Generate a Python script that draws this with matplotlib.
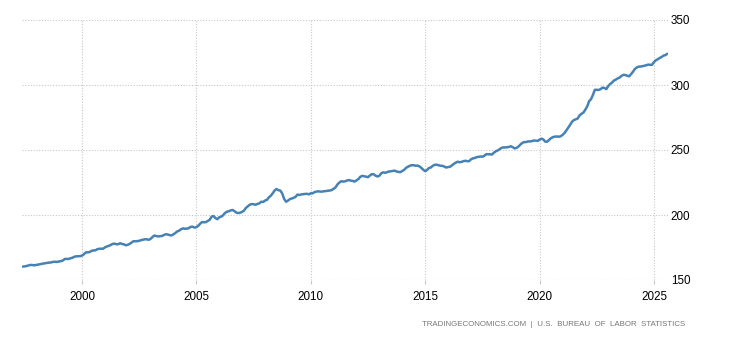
import matplotlib
matplotlib.use("Agg")
import matplotlib.pyplot as plt
import matplotlib.dates as mdates
import pandas as pd

start_month = "1997-06-01"
cpi = [
    # 1997 (Jun-Dec)
    160.3, 160.5, 160.8, 161.2, 161.6, 161.5, 161.3,
    # 1998
    161.6, 161.9, 162.2, 162.5, 162.8, 163.0, 163.2, 163.4, 163.6, 164.0, 164.0, 163.9,
    # 1999
    164.3, 164.5, 165.0, 166.2, 166.2, 166.2, 166.7, 167.1, 167.9, 168.2, 168.3, 168.3,
    # 2000
    168.8, 169.8, 171.2, 171.3, 171.5, 172.4, 172.8, 172.8, 173.7, 174.0, 174.1, 174.0,
    # 2001
    175.1, 175.8, 176.2, 176.9, 177.7, 178.0, 177.5, 177.5, 178.3, 177.7, 177.4, 176.7,
    # 2002
    177.1, 177.8, 178.8, 179.8, 179.8, 179.9, 180.1, 180.7, 181.0, 181.3, 181.3, 180.9,
    # 2003
    181.7, 183.1, 184.2, 183.8, 183.5, 183.7, 183.9, 184.6, 185.2, 185.0, 184.5, 184.3,
    # 2004
    185.2, 186.2, 187.4, 188.0, 189.1, 189.7, 189.4, 189.5, 189.9, 190.9, 191.0, 190.3,
    # 2005
    190.7, 191.8, 193.3, 194.6, 194.4, 194.5, 195.4, 196.4, 198.8, 199.2, 197.6, 196.8,
    # 2006
    198.3, 198.7, 199.8, 201.5, 202.5, 202.9, 203.5, 203.9, 202.9, 201.8, 201.5, 201.8,
    # 2007
    202.4, 203.5, 205.4, 206.7, 207.9, 208.4, 208.3, 207.9, 208.5, 208.9, 210.2, 210.0,
    # 2008
    211.1, 211.7, 213.5, 214.8, 216.6, 218.8, 220.0, 219.1, 218.8, 216.6, 212.4, 210.2,
    # 2009
    211.1, 212.2, 212.7, 213.2, 213.9, 215.7, 215.4, 215.8, 216.0, 216.2, 216.3, 215.9,
    # 2010
    216.7, 216.7, 217.6, 218.0, 218.2, 218.0, 218.0, 218.3, 218.4, 218.7, 218.8, 219.2,
    # 2011
    220.2, 221.3, 223.5, 224.9, 226.0, 225.7, 225.9, 226.5, 226.9, 226.4, 226.2, 225.7,
    # 2012
    226.7, 227.7, 229.4, 230.1, 229.8, 229.5, 229.1, 230.4, 231.4, 231.3, 230.2, 229.6,
    # 2013
    230.3, 232.2, 232.8, 232.5, 232.9, 233.5, 233.6, 233.9, 234.1, 233.5, 233.1, 233.0,
    # 2014
    233.9, 234.8, 236.3, 237.1, 237.9, 238.3, 238.3, 237.9, 238.0, 237.4, 236.2, 234.8,
    # 2015
    233.7, 234.7, 236.1, 236.6, 237.8, 238.6, 238.7, 238.3, 237.9, 237.8, 237.3, 236.5,
    # 2016
    236.9, 237.1, 238.1, 239.3, 240.2, 241.0, 240.6, 240.8, 241.4, 241.7, 241.4, 241.4,
    # 2017
    242.8, 243.6, 243.8, 244.5, 244.7, 245.0, 244.8, 245.5, 246.8, 246.7, 246.7, 246.5,
    # 2018
    247.9, 249.0, 249.6, 250.5, 251.6, 252.0, 252.0, 252.1, 252.4, 252.9, 252.0, 251.2,
    # 2019
    251.7, 252.8, 254.2, 255.5, 256.1, 256.1, 256.6, 256.6, 256.8, 257.3, 257.2, 257.0,
    # 2020
    258.0, 258.7, 258.1, 256.4, 256.4, 257.8, 259.1, 259.9, 260.3, 260.4, 260.2, 260.5,
    # 2021
    261.6, 263.0, 264.9, 267.1, 269.2, 271.7, 273.0, 273.6, 274.3, 276.6, 277.9, 278.8,
    # 2022
    281.1, 283.7, 287.5, 289.1, 292.3, 296.3, 296.3, 296.2, 296.8, 298.0, 297.7, 296.8,
    # 2023
    299.2, 300.8, 301.8, 303.4, 304.1, 305.1, 305.7, 307.0, 307.8, 307.7, 307.1, 306.7,
    # 2024
    308.4, 310.3, 312.3, 313.5, 314.1, 314.2, 314.5, 314.8, 315.3, 315.7, 315.5, 315.6,
    # 2025 (Jan-Aug)
    317.7, 319.1, 319.8, 320.8, 321.5, 322.6, 323.0, 324.0,
]
y_ticks = [150, 200, 250, 300, 350]
source_text = "TRADINGECONOMICS.COM  |  U.S.  BUREAU  OF  LABOR  STATISTICS"

dates = pd.date_range(start_month, periods=len(cpi), freq="MS")

plt.rcParams["font.family"] = ["Liberation Sans", "DejaVu Sans"]

fig = plt.figure(figsize=(7.3, 3.4), dpi=100)
ax = fig.add_axes([22 / 730, 60 / 340, 646 / 730, 260 / 340])

ax.plot(dates, cpi, color="#4682b4", lw=1.8, solid_capstyle="round")

ax.set_xlim(pd.Timestamp("1997-05-18"), pd.Timestamp("2025-08-12"))
ax.set_ylim(150, 350)
ax.set_yticks(y_ticks)
ax.xaxis.set_major_locator(mdates.YearLocator(5))
ax.xaxis.set_major_formatter(mdates.DateFormatter("%Y"))

ax.grid(True, color="#c8c8c8", linestyle=(0, (1, 1.5)), lw=0.8)
for s in ax.spines.values():
    s.set_visible(False)

ax.yaxis.tick_right()
ax.tick_params(axis="y", length=0, pad=2, labelsize=8.4, colors="black")
ax.tick_params(axis="x", length=3, width=0.8, color="#c8c8c8", pad=5,
               labelsize=8.4, labelcolor="black")

fig.text(685 / 730, 1 - 324 / 340, source_text, ha="right", va="center",
         fontsize=5.65, color="#777777")

fig.savefig("out.png", dpi=100)
